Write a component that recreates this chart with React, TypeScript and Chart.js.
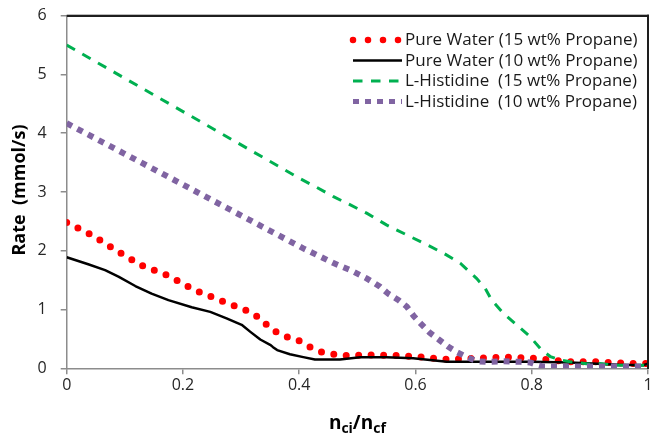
import React, { useEffect, useRef } from 'react';
import { Chart, registerables } from 'chart.js';

Chart.register(...registerables);

// ---- Data ----
const seriesLabels = [
  'Pure Water (15 wt% Propane)',
  'Pure Water (10 wt% Propane)',
  'L-Histidine  (15 wt% Propane)',
  'L-Histidine  (10 wt% Propane)',
];

const water15X = [0, 0.043, 0.086, 0.129, 0.176, 0.218, 0.266, 0.313, 0.334, 0.351, 0.373, 0.396, 0.417, 0.438, 0.46, 0.486, 0.51, 0.56, 0.61, 0.657, 0.705, 0.757, 0.808, 0.86, 0.912, 0.963, 1.0];
const water15Y = [2.48, 2.27, 2.0, 1.75, 1.57, 1.34, 1.15, 0.97, 0.84, 0.67, 0.55, 0.49, 0.37, 0.28, 0.24, 0.21, 0.23, 0.22, 0.19, 0.15, 0.17, 0.19, 0.17, 0.11, 0.11, 0.085, 0.08];

const water10X = [0, 0.037, 0.066, 0.089, 0.118, 0.146, 0.175, 0.215, 0.247, 0.275, 0.301, 0.316, 0.333, 0.35, 0.355, 0.362, 0.384, 0.407, 0.427, 0.453, 0.47, 0.505, 0.55, 0.596, 0.625, 0.654, 0.705, 0.8, 0.866, 0.95, 0.99, 1.0];
const water10Y = [1.89, 1.77, 1.67, 1.56, 1.40, 1.27, 1.16, 1.04, 0.96, 0.85, 0.74, 0.62, 0.49, 0.40, 0.36, 0.31, 0.24, 0.19, 0.15, 0.15, 0.15, 0.19, 0.19, 0.17, 0.14, 0.11, 0.11, 0.11, 0.10, 0.06, 0.05, 0.08];

const his15X = [0, 0.221, 0.401, 0.43, 0.459, 0.488, 0.516, 0.55, 0.585, 0.62, 0.648, 0.677, 0.705, 0.72, 0.731, 0.751, 0.774, 0.797, 0.817, 0.832, 0.849, 0.866, 0.9, 0.917, 0.95, 1.0];
const his15Y = [5.50, 4.25, 3.23, 3.08, 2.92, 2.78, 2.64, 2.44, 2.27, 2.10, 1.96, 1.79, 1.53, 1.36, 1.16, 0.94, 0.74, 0.54, 0.31, 0.20, 0.14, 0.11, 0.07, 0.08, 0.05, 0.05];

const his10X = [0, 0.18, 0.407, 0.43, 0.459, 0.488, 0.516, 0.539, 0.553, 0.571, 0.585, 0.597, 0.61, 0.624, 0.64, 0.656, 0.672, 0.689, 0.705, 0.722, 0.75, 0.78, 0.797, 0.808, 0.82, 0.9, 1.0];
const his10Y = [4.17, 3.23, 2.04, 1.93, 1.79, 1.67, 1.53, 1.39, 1.27, 1.16, 1.05, 0.89, 0.75, 0.61, 0.49, 0.37, 0.27, 0.19, 0.12, 0.11, 0.12, 0.11, 0.10, 0.06, 0.03, 0.03, 0.03];

const xTickValues = [0, 0.2, 0.4, 0.6, 0.8, 1];
const yTickValues = [0, 1, 2, 3, 4, 5, 6];

const yTitle = 'Rate  (mmol/s)';
const xTitleParts: [string, boolean][] = [['n', false], ['ci', true], ['/n', false], ['cf', true]];

const FONT = '"Open Sans", "Liberation Sans", sans-serif';

function pts(xs: number[], ys: number[]) {
  return xs.map((x, i) => ({ x, y: ys[i] }));
}

function fin(v: any, fallback: number) {
  return typeof v === 'number' && isFinite(v) ? v : fallback;
}

function plotBox(chart: any) {
  const xs = chart.scales.x;
  const ys = chart.scales.y;
  return {
    left: fin(xs && xs.left, 66.7),
    right: fin(xs && xs.right, 648),
    top: fin(ys && ys.top, 15.7),
    bottom: fin(ys && ys.bottom, 368.3),
  };
}

const legendDash: number[][] = [[0, 15], [], [9.5, 8.5], [6, 6]];

const legendPlugin = {
  id: 'customLegend',
  afterDatasetsDraw(chart: any) {
    const ctx = chart.ctx;
    const rows = [40, 60.5, 81, 101.5];
    chart.data.datasets.forEach((ds: any, i: number) => {
      const y = rows[i];
      ctx.save();
      ctx.strokeStyle = ds.borderColor;
      ctx.lineWidth = i === 0 ? 6.5 : i === 3 ? 5 : ds.borderWidth;
      ctx.setLineDash(legendDash[i]);
      ctx.lineCap = ds.borderCapStyle || 'butt';
      ctx.beginPath();
      ctx.moveTo(353, y);
      ctx.lineTo(402, y);
      ctx.stroke();
      ctx.setLineDash([]);
      ctx.fillStyle = '#1a1a1a';
      ctx.font = `17px ${FONT}`;
      ctx.textBaseline = 'middle';
      ctx.textAlign = 'left';
      ctx.fillText(ds.label, 405, y + 0.5);
      ctx.restore();
    });
  },
};

const titlesPlugin = {
  id: 'titles',
  afterDraw(chart: any) {
    const ctx = chart.ctx;
    const b = plotBox(chart);

    // plot frame: top and right edges
    ctx.save();
    ctx.globalAlpha = 1;
    ctx.globalCompositeOperation = 'source-over';
    ctx.fillStyle = '#1e1e1e';
    ctx.fillRect(b.left, b.top - 1, b.right - b.left + 1, 2);
    ctx.fillRect(b.right - 1, b.top - 1, 2, b.bottom - b.top + 1);
    ctx.restore();

    // y title
    ctx.save();
    ctx.translate(20, 190);
    ctx.rotate(-Math.PI / 2);
    ctx.font = `bold 18px ${FONT}`;
    ctx.fillStyle = '#000';
    ctx.textAlign = 'center';
    ctx.textBaseline = 'middle';
    ctx.fillText(yTitle, 0, 0);
    ctx.restore();

    // x title with subscripts
    ctx.save();
    const mainFont = `bold 19px ${FONT}`;
    const subFont = `bold 14px ${FONT}`;
    let total = 0;
    const widths = xTitleParts.map(([t, sub]) => {
      ctx.font = sub ? subFont : mainFont;
      const w = ctx.measureText(t).width;
      total += w;
      return w;
    });
    let x = (b.left + b.right) / 2 - total / 2;
    const base = 429;
    ctx.fillStyle = '#000';
    ctx.textAlign = 'left';
    ctx.textBaseline = 'alphabetic';
    xTitleParts.forEach(([t, sub], i) => {
      ctx.font = sub ? subFont : mainFont;
      ctx.fillText(t, x, sub ? base + 4 : base);
      x += widths[i];
    });
    ctx.restore();
  },
};

export default function App() {
  const ref = useRef<HTMLCanvasElement | null>(null);
  const frameRef = useRef<HTMLDivElement | null>(null);

  useEffect(() => {
    if (!ref.current) return;
    const axisColor = '#8c8c8c';
    const chart = new Chart(ref.current, {
      type: 'line',
      data: {
        datasets: [
          {
            label: seriesLabels[0],
            data: pts(water15X, water15Y),
            borderColor: '#ff0000',
            borderWidth: 7,
            borderDash: [0, 12.5],
            borderCapStyle: 'round',
            borderJoinStyle: 'round',
            pointRadius: 0,
            fill: false,
            order: 4,
          },
          {
            label: seriesLabels[1],
            data: pts(water10X, water10Y),
            borderColor: '#000000',
            borderWidth: 2.5,
            borderJoinStyle: 'round',
            pointRadius: 0,
            fill: false,
            order: 3,
          },
          {
            label: seriesLabels[2],
            data: pts(his15X, his15Y),
            borderColor: '#00b050',
            borderWidth: 3,
            borderDash: [9.5, 8.5],
            borderCapStyle: 'butt',
            pointRadius: 0,
            fill: false,
            order: 2,
          },
          {
            label: seriesLabels[3],
            data: pts(his10X, his10Y),
            borderColor: '#8064a2',
            borderWidth: 6,
            borderDash: [6, 6],
            borderCapStyle: 'butt',
            pointRadius: 0,
            fill: false,
            order: 1,
          },
        ],
      } as any,
      options: {
        animation: false,
        responsive: false,
        maintainAspectRatio: false,
        layout: { padding: { left: 0, right: 4, top: 15.7, bottom: 0 } },
        plugins: {
          legend: { display: false },
          tooltip: { enabled: false },
          title: { display: false },
        },
        scales: {
          x: {
            type: 'linear',
            min: 0,
            max: 1,
            afterBuildTicks: (scale: any) => {
              scale.ticks = xTickValues.map((v) => ({ value: v }));
            },
            afterFit: (scale: any) => {
              scale.height = 68.7;
              scale.paddingLeft = 0;
              scale.paddingRight = 0;
            },
            ticks: {
              callback: (v: any) => String(v),
              color: '#262626',
              font: { family: FONT, size: 16 },
              padding: 2,
              maxRotation: 0,
            },
            grid: {
              drawOnChartArea: false,
              drawTicks: true,
              tickLength: 6,
              color: axisColor,
              lineWidth: 1.5,
            },
            border: { display: true, color: axisColor, width: 1.5 },
          },
          y: {
            type: 'linear',
            min: 0,
            max: 6,
            afterBuildTicks: (scale: any) => {
              scale.ticks = yTickValues.map((v) => ({ value: v }));
            },
            afterFit: (scale: any) => {
              scale.width = 66.7;
              scale.paddingTop = 0;
              scale.paddingBottom = 0;
            },
            ticks: {
              callback: (v: any) => String(v),
              color: '#262626',
              font: { family: FONT, size: 16 },
              padding: 14,
            },
            grid: {
              drawOnChartArea: false,
              drawTicks: true,
              tickLength: 6,
              color: axisColor,
              lineWidth: 1.5,
            },
            border: { display: true, color: axisColor, width: 1.5 },
          },
        },
      } as any,
      plugins: [legendPlugin, titlesPlugin],
    });

    // Overlay frame (top and right edges of the plot area) positioned from the chart's scales
    const f = frameRef.current;
    if (f) {
      const b = plotBox(chart);
      f.style.left = `${Math.round(b.left)}px`;
      f.style.top = `${Math.round(b.top) - 1}px`;
      f.style.width = `${Math.round(b.right - b.left) + 1}px`;
      f.style.height = `${Math.round(b.bottom - b.top) + 1}px`;
      f.style.display = 'block';
    }

    return () => chart.destroy();
  }, []);

  return (
    <div style={{ position: 'absolute', left: 0, top: 0, width: 652, height: 437, background: '#fff' }}>
      <canvas ref={ref} width={652} height={437} style={{ display: 'block', width: 652, height: 437 }} />
      <div
        ref={frameRef}
        style={{
          position: 'absolute',
          display: 'none',
          boxSizing: 'border-box',
          borderTop: '2px solid #1e1e1e',
          borderRight: '2px solid #1e1e1e',
          pointerEvents: 'none',
        }}
      />
    </div>
  );
}
